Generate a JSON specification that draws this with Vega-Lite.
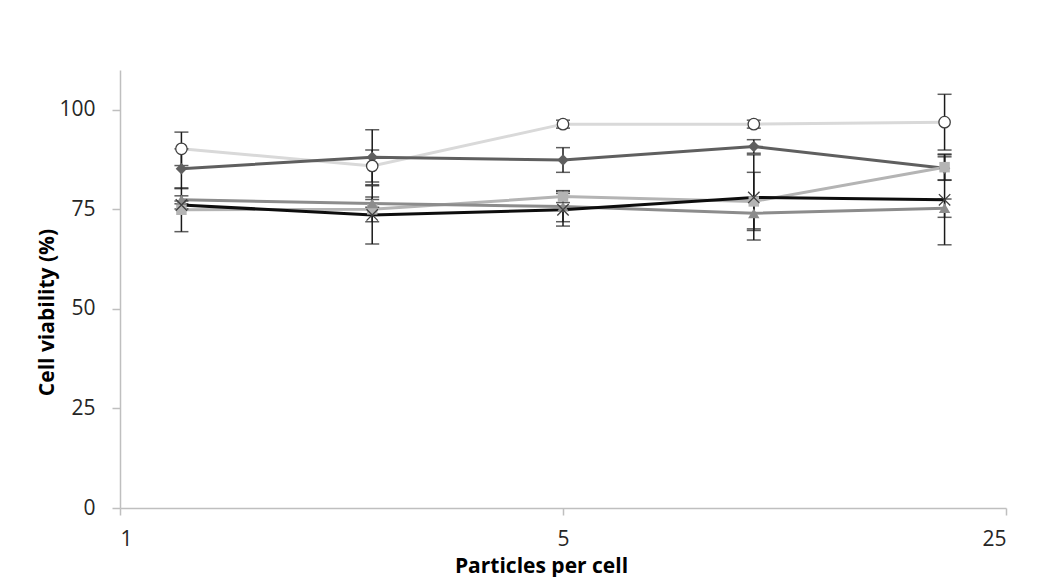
{
  "$schema": "https://vega.github.io/schema/vega-lite/v6.json",
  "autosize": {"type": "none"},
  "width": 886,
  "height": 438,
  "padding": {"left": 120, "top": 70, "right": 56, "bottom": 69},
  "background": "white",
  "config": {
    "view": {"stroke": null},
    "font": "Open Sans",
    "axis": {
      "grid": false,
      "domainColor": "#bfbfbf",
      "domainWidth": 1.5,
      "tickColor": "#bfbfbf",
      "tickWidth": 1.5,
      "labelFont": "Open Sans",
      "labelFontSize": 21,
      "labelColor": "#262626",
      "titleFont": "Open Sans",
      "titleFontSize": 21,
      "titleFontWeight": "bold",
      "titleColor": "#000000"
    }
  },
  "data": {
    "values": [
      {"series": "A", "x": 1.25, "y": 90.2, "lo": 86.0, "hi": 94.4},
      {"series": "A", "x": 2.5, "y": 85.9, "lo": 81.9, "hi": 89.9},
      {"series": "A", "x": 5, "y": 96.4, "lo": 95.4, "hi": 97.4},
      {"series": "A", "x": 10, "y": 96.4, "lo": 95.4, "hi": 97.4},
      {"series": "A", "x": 20, "y": 96.9, "lo": 89.9, "hi": 103.9},
      {"series": "B", "x": 1.25, "y": 85.2, "lo": 80.2, "hi": 90.2},
      {"series": "B", "x": 2.5, "y": 88.1, "lo": 81.2, "hi": 95.0},
      {"series": "B", "x": 5, "y": 87.4, "lo": 84.3, "hi": 90.5},
      {"series": "B", "x": 10, "y": 90.8, "lo": 89.1, "hi": 92.5},
      {"series": "B", "x": 20, "y": 85.3, "lo": 82.4, "hi": 88.2},
      {"series": "C", "x": 1.25, "y": 74.9, "lo": 69.4, "hi": 80.4},
      {"series": "C", "x": 2.5, "y": 75.0, "lo": 71.9, "hi": 78.1},
      {"series": "C", "x": 5, "y": 78.2, "lo": 76.7, "hi": 79.7},
      {"series": "C", "x": 10, "y": 77.0, "lo": 69.7, "hi": 84.3},
      {"series": "C", "x": 20, "y": 85.6, "lo": 82.3, "hi": 88.9},
      {"series": "D", "x": 1.25, "y": 77.4, "lo": 76.4, "hi": 78.4},
      {"series": "D", "x": 2.5, "y": 76.5, "lo": 75.5, "hi": 77.5},
      {"series": "D", "x": 5, "y": 75.7, "lo": 71.9, "hi": 79.5},
      {"series": "D", "x": 10, "y": 74.0, "lo": 70.1, "hi": 77.9},
      {"series": "D", "x": 20, "y": 75.3, "lo": 73.0, "hi": 77.6},
      {"series": "E", "x": 1.25, "y": 76.1, "lo": 75.1, "hi": 77.1},
      {"series": "E", "x": 2.5, "y": 73.6, "lo": 66.3, "hi": 80.9},
      {"series": "E", "x": 5, "y": 74.9, "lo": 70.8, "hi": 79.0},
      {"series": "E", "x": 10, "y": 78.0, "lo": 67.3, "hi": 88.7},
      {"series": "E", "x": 20, "y": 77.4, "lo": 66.1, "hi": 88.7}
    ]
  },
  "encoding": {
    "x": {
      "field": "x",
      "type": "quantitative",
      "scale": {"type": "log", "base": 5, "domain": [1, 25], "nice": false},
      "axis": {
        "values": [1, 5, 25],
        "labelExpr": "datum.value",
        "tickSize": 7,
        "labelPadding": 13,
        "title": "Particles per cell",
        "titleX": 421,
        "titleY": 58,
        "titleBaseline": "middle"
      }
    },
    "y": {
      "field": "y",
      "type": "quantitative",
      "scale": {"domain": [0, 110], "nice": false},
      "axis": {
        "values": [0, 25, 50, 75, 100],
        "tickSize": 8,
        "labelPadding": 17,
        "title": "Cell viability (%)",
        "titleX": -73,
        "titleY": 242,
        "titleBaseline": "middle"
      }
    }
  },
  "layer": [
    {
      "mark": {"type": "line", "strokeWidth": 3},
      "encoding": {
        "color": {
          "field": "series",
          "type": "nominal",
          "legend": null,
          "scale": {
            "domain": ["A", "B", "C", "D", "E"],
            "range": ["#d9d9d9", "#5f5f5f", "#b4b4b4", "#8c8c8c", "#0d0d0d"]
          }
        },
        "detail": {"field": "series"}
      }
    },
    {
      "mark": {
        "type": "errorbar",
        "color": "#1a1a1a",
        "rule": {"strokeWidth": 1.5, "color": "#1a1a1a"},
        "ticks": {"size": 14, "thickness": 1.5, "color": "#1a1a1a"}
      },
      "encoding": {
        "y": {"field": "lo", "type": "quantitative"},
        "y2": {"field": "hi"}
      }
    },
    {
      "transform": [{"filter": "datum.series === 'B'"}],
      "mark": {"type": "point", "shape": "diamond", "filled": true, "size": 130, "color": "#5f5f5f", "opacity": 1}
    },
    {
      "transform": [{"filter": "datum.series === 'C'"}],
      "mark": {"type": "point", "shape": "square", "filled": true, "size": 110, "color": "#b4b4b4", "opacity": 1}
    },
    {
      "transform": [{"filter": "datum.series === 'D'"}],
      "mark": {"type": "point", "shape": "triangle-up", "filled": true, "size": 130, "color": "#8c8c8c", "opacity": 1}
    },
    {
      "transform": [{"filter": "datum.series === 'E'"}],
      "mark": {"type": "point", "shape": "M-1,-1L1,1M-1,1L1,-1", "filled": false, "size": 130, "stroke": "#404040", "strokeWidth": 1.3, "opacity": 1}
    },
    {
      "transform": [{"filter": "datum.series === 'A'"}],
      "mark": {"type": "point", "shape": "circle", "filled": true, "fill": "white", "size": 130, "stroke": "#404040", "strokeWidth": 1.3, "opacity": 1}
    }
  ]
}
